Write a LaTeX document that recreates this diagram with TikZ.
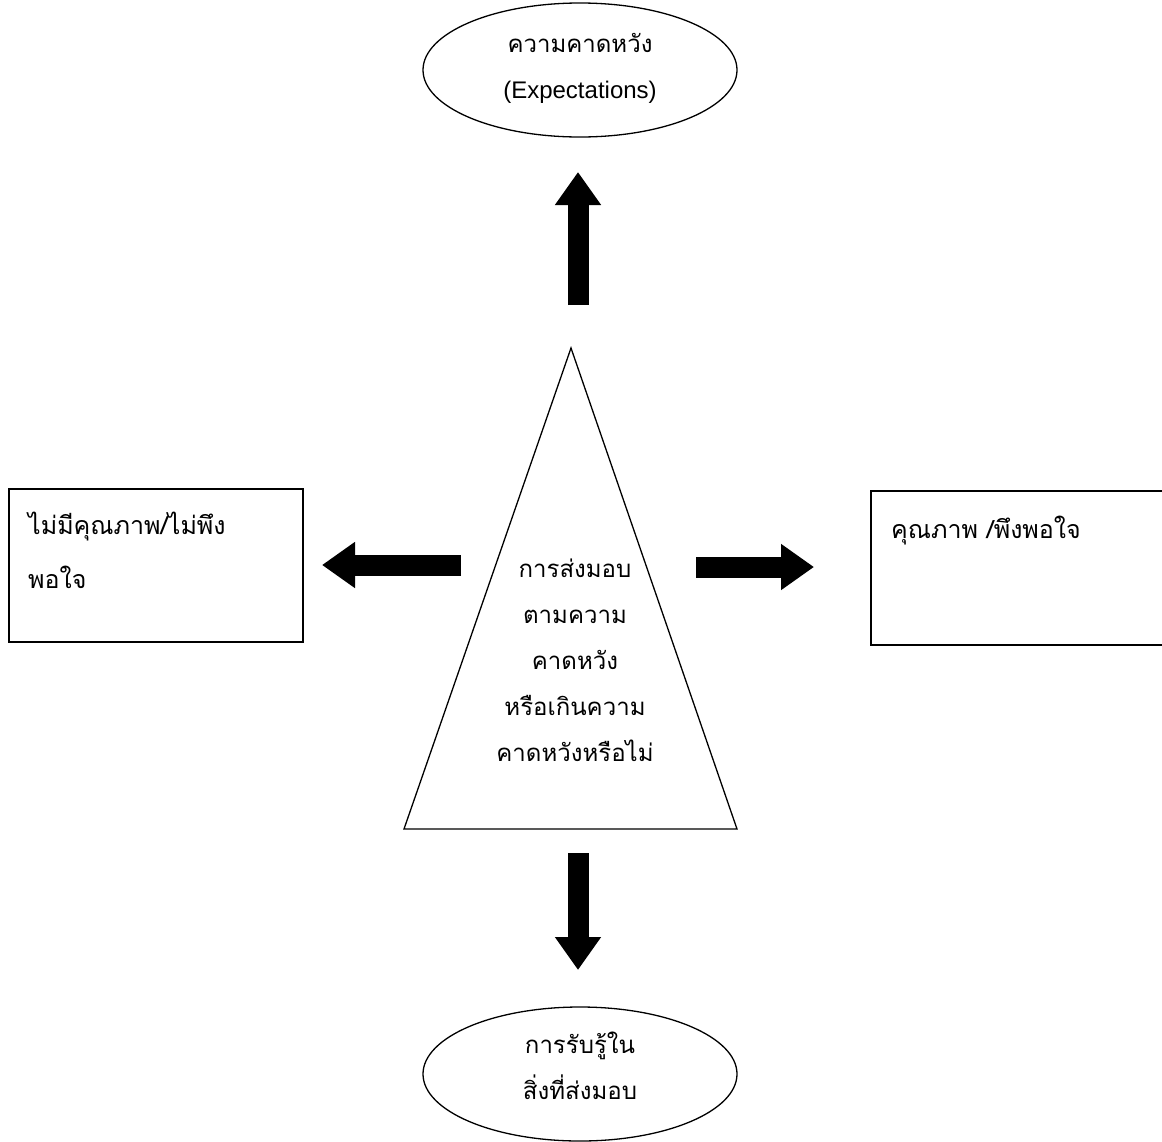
\documentclass[tikz,border=0pt]{standalone}
\usepackage{fontspec}
\setmainfont{Liberation Sans}
\newfontfamily\thaifont[Script=Thai]{Loma}
\usetikzlibrary{arrows.meta}
\begin{document}
\begin{tikzpicture}[x=1pt,y=-1pt,
  outline/.style={draw=black,line width=1.3pt},
  label/.style={font=\thaifont\fontsize{24}{46}\selectfont,align=center,inner sep=0pt},
  boxtext/.style={font=\thaifont\fontsize{25}{54}\selectfont,align=left,inner sep=0pt,anchor=north west},
  fatarrow/.style={line width=21pt,-{Triangle[width=44pt,length=33pt]}}]
\useasboundingbox (0,0) rectangle (1162,1141);
\clip (0,0) rectangle (1162,1141);

% top and bottom ellipses
\draw[outline] (580,70) ellipse [x radius=157,y radius=67];
\node[label] (expect) at (580,68) {ความคาดหวัง\\{\rmfamily\fontsize{24}{46}\selectfont(Expectations)}};
\draw[outline] (580,1074) ellipse [x radius=157,y radius=67];
\node[label] (perceive) at (580,1066) {การรับรู้ใน\\สิ่งที่ส่งมอบ};

% central triangle
\coordinate (apex) at (571,348);
\coordinate (bl) at (404,829);
\coordinate (br) at (737,829);
\draw[outline,line join=miter] (apex) -- (bl) -- (br) -- cycle;
\node[label] (deliver) at (575,660) {การส่งมอบ\\ตามความ\\คาดหวัง\\หรือเกินความ\\คาดหวังหรือไม่};

% side boxes
\draw[outline] (9,489) rectangle (303,642);
\node[boxtext] (low) at (28,512) {ไม่มีคุณภาพ/ไม่พึง\\พอใจ};
\draw[outline] (871,491) rectangle (1175,645);
\node[boxtext] (high) at (891,516) {คุณภาพ /พึงพอใจ};

% block arrows
\coordinate (upS) at (578,305);  \coordinate (upE) at (578,172);
\coordinate (lfS) at (461,565);  \coordinate (lfE) at (322,565);
\coordinate (rtS) at (696,567);  \coordinate (rtE) at (814,567);
\coordinate (dnS) at (578,853);  \coordinate (dnE) at (578,970);
\draw[fatarrow] (upS) -- (upE);
\draw[fatarrow] (lfS) -- (lfE);
\draw[fatarrow] (rtS) -- (rtE);
\draw[fatarrow] (dnS) -- (dnE);
\end{tikzpicture}
\end{document}
